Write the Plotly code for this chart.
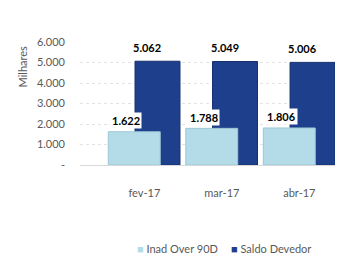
import plotly.graph_objects as go

categories = ["fev-17", "mar-17", "abr-17"]
inad_over_90d = [1622, 1788, 1806]
saldo_devedor = [5062, 5049, 5006]
label_inad = ["1.622", "1.788", "1.806"]
label_saldo = ["5.062", "5.049", "5.006"]
series_names = ["Inad Over 90D", "Saldo Devedor"]
series_colors = ["#B3DCE8", "#1E3F8C"]
y_tickvals = [0, 1000, 2000, 3000, 4000, 5000, 6000]
y_ticktext = ["-", "1.000", "2.000", "3.000", "4.000", "5.000", "6.000"]

FONT = "Lato, 'Open Sans', sans-serif"

fig = go.Figure()
fig.add_trace(go.Bar(
    x=categories, y=saldo_devedor, name=series_names[1],
    marker=dict(color=series_colors[1], line=dict(color="#14306E", width=1)),
    width=0.58, offset=-0.12, hoverinfo="skip", showlegend=False,
))
fig.add_trace(go.Bar(
    x=categories, y=inad_over_90d, name=series_names[0],
    marker=dict(color=series_colors[0], line=dict(color="#9CC6D4", width=1)),
    width=0.67, offset=-0.465, hoverinfo="skip", showlegend=False,
))

for c, v, t in zip(categories, saldo_devedor, label_saldo):
    fig.add_annotation(x=c, y=v, text="<b>%s</b>" % t, showarrow=False,
                       xshift=3, yshift=14, bgcolor="white",
                       font=dict(family=FONT, size=11, color="black"))
for c, v, t in zip(categories, inad_over_90d, label_inad):
    fig.add_annotation(x=c, y=v, text="<b>%s</b>" % t, showarrow=False,
                       xshift=-18, yshift=11, bgcolor="white",
                       font=dict(family=FONT, size=11, color="black"))

fig.add_annotation(text="Milhares", xref="paper", yref="paper", x=-0.224, y=0.8,
                   xanchor="center", yanchor="middle",
                   textangle=-90, showarrow=False,
                   font=dict(family=FONT, size=11, color="#595959"))

# legend drawn as text entries
for name, color, lx in zip(series_names, series_colors, [0.215, 0.585]):
    fig.add_annotation(
        text='<span style="color:%s">■</span> %s' % (color, name),
        xref="paper", yref="paper", x=lx, y=-0.675,
        xanchor="left", yanchor="middle", showarrow=False,
        font=dict(family=FONT, size=11, color="#595959"))

fig.update_layout(
    width=345, height=257,
    margin=dict(l=80, r=10, t=42, b=92, autoexpand=False),
    barmode="overlay",
    plot_bgcolor="white", paper_bgcolor="white",
    font=dict(family=FONT, size=11, color="#595959"),
    showlegend=False,
    xaxis=dict(range=[-0.83, 2.46], showgrid=False, showline=True,
               linecolor="#D9D9D9", ticks="", ticklabelstandoff=18,
               automargin=False,
               tickfont=dict(size=11, color="#595959")),
    yaxis=dict(range=[0, 6000], tickvals=y_tickvals, ticktext=y_ticktext,
               showgrid=True, gridcolor="#E3E3E3", griddash="dot",
               automargin=False,
               zeroline=False, ticks="", ticklabelstandoff=14,
               tickfont=dict(size=11, color="#595959")),
)

fig.write_html("out.html", config={"displayModeBar": False},
               post_script="document.body.style.margin='0';document.body.style.padding='0';")
